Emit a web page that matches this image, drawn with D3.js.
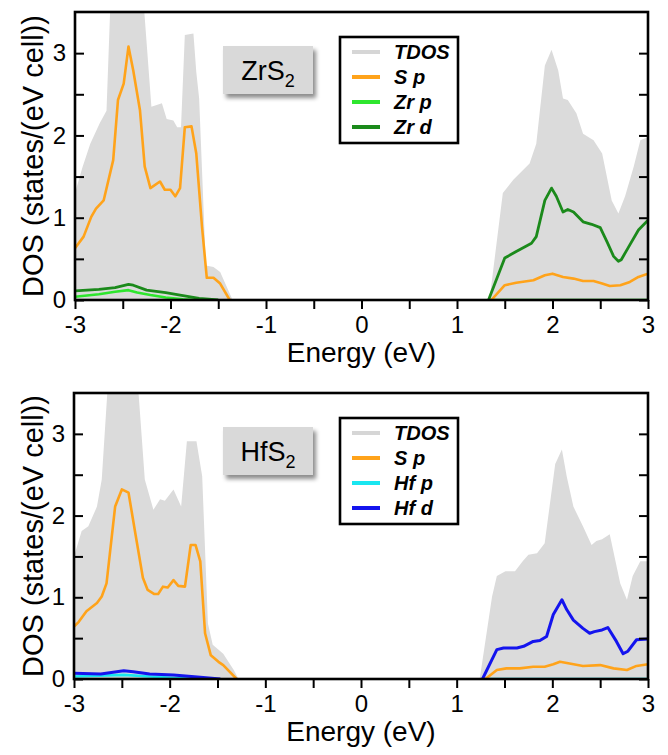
<!DOCTYPE html>
<html>
<head>
<meta charset="utf-8">
<script src="https://cdn.jsdelivr.net/npm/d3@7"></script>
<style>
  body { margin: 0; background: #fff; }
  svg text { font-family: "Liberation Sans", Arial, sans-serif; }
</style>
</head>
<body>
<svg id="chart"></svg>
<script>
var width = 668, height = 755;

// ---- ZrS2 (null = gap) ----
var zrTdosE = [-3, -2.92, -2.84, -2.74, -2.67, -2.62, -2.3, -2.2, -2.09, -2.04, -1.97, -1.93, -1.89, -1.85, -1.76, -1.73, -1.7, -1.63, -1.55, -1.48, -1.38, -1.35,
               1.34, 1.48, 1.59, 1.76, 1.83, 1.92, 1.99, 2.06, 2.11, 2.16, 2.25, 2.32, 2.43, 2.52, 2.62, 2.69, 2.76, 2.85, 2.92, 3];
var zrTdosV = [1.3, 1.62, 1.9, 2.15, 2.3, 3.9, 3.9, 2.35, 2.39, 2.2, 2.18, 2.1, 2.1, 3.22, 3.24, 2.77, 2.45, 0.42, 0.4, 0.34, 0.08, 0,
               0, 1.3, 1.46, 1.66, 1.9, 2.85, 3.04, 2.79, 2.45, 2.43, 2.27, 2.02, 1.94, 1.78, 1.21, 1.05, 1.26, 1.62, 1.94, 1.98];

var zrSpE = [-3, -2.91, -2.83, -2.78, -2.7, -2.6, -2.55, -2.49, -2.44, -2.39, -2.32, -2.27, -2.21, -2.11, -2.06, -2.0, -1.95, -1.9, -1.85, -1.78, -1.73, -1.67, -1.62, -1.55, -1.48, -1.38,
             null,
             1.36, 1.5, 1.62, 1.8, 1.92, 2.0, 2.11, 2.22, 2.32, 2.43, 2.52, 2.6, 2.71, 2.81, 2.9, 3];
var zrSpV = [0.63, 0.77, 1.01, 1.11, 1.21, 1.7, 2.43, 2.63, 3.08, 2.79, 2.31, 1.62, 1.36, 1.44, 1.34, 1.34, 1.26, 1.36, 2.1, 2.11, 1.78, 0.89, 0.27, 0.27, 0.2, 0,
             null,
             0, 0.18, 0.21, 0.24, 0.3, 0.32, 0.28, 0.26, 0.23, 0.23, 0.2, 0.17, 0.18, 0.22, 0.28, 0.32];

var zrPE = [-3, -2.75, -2.58, -2.44, -2.35, -2.21, -2.05, -1.87, -1.7, null, 1.34, 3];
var zrPV = [0.04, 0.07, 0.1, 0.12, 0.09, 0.06, 0.03, 0.01, 0, null, 0, 0];

var zrDE = [-3, -2.75, -2.58, -2.44, -2.39, -2.25, -2.05, -1.9, -1.7, -1.5,
            null,
            1.33, 1.5, 1.62, 1.78, 1.83, 1.92, 1.99, 2.04, 2.11, 2.16, 2.22, 2.32, 2.41, 2.5, 2.57, 2.64, 2.69, 2.72, 2.79, 2.9, 3];
var zrDV = [0.11, 0.13, 0.15, 0.19, 0.18, 0.12, 0.09, 0.06, 0.02, 0,
            null,
            0, 0.51, 0.59, 0.69, 0.77, 1.21, 1.36, 1.26, 1.07, 1.1, 1.07, 0.95, 0.92, 0.88, 0.71, 0.53, 0.47, 0.49, 0.63, 0.85, 0.97];

// ---- HfS2 ----
var hfTdosE = [-3, -2.92, -2.85, -2.76, -2.71, -2.63, -2.35, -2.26, -2.17, -2.1, -2.05, -1.96, -1.88, -1.82, -1.72, -1.66, -1.6, -1.55, -1.44, -1.33, -1.28,
               1.24, 1.26, 1.37, 1.42, 1.51, 1.61, 1.69, 1.75, 1.84, 1.92, 2.03, 2.1, 2.15, 2.22, 2.32, 2.41, 2.46, 2.52, 2.6, 2.71, 2.78, 2.84, 2.92, 3];
var hfTdosV = [1.5, 1.81, 1.87, 2.11, 2.44, 3.9, 3.9, 2.44, 2.07, 2.2, 2.18, 2.32, 2.11, 2.91, 2.91, 2.48, 0.68, 0.42, 0.31, 0.11, 0,
               0, 0.15, 1.01, 1.26, 1.32, 1.32, 1.44, 1.52, 1.54, 1.66, 2.63, 2.81, 2.48, 2.11, 1.87, 1.64, 1.69, 1.71, 1.77, 1.17, 0.97, 1.26, 1.44, 1.44];

var hfSpE = [-3, -2.95, -2.87, -2.76, -2.71, -2.66, -2.57, -2.5, -2.43, -2.36, -2.28, -2.23, -2.16, -2.12, -2.07, -2.02, -1.96, -1.91, -1.84, -1.78, -1.73, -1.68, -1.63, -1.57, -1.49, -1.44, -1.3,
             null,
             1.3, 1.42, 1.52, 1.66, 1.8, 1.92, 2.01, 2.08, 2.18, 2.32, 2.5, 2.64, 2.78, 2.88, 3];
var hfSpV = [0.64, 0.7, 0.83, 0.93, 1.01, 1.17, 2.11, 2.32, 2.28, 1.79, 1.24, 1.09, 1.04, 1.04, 1.13, 1.12, 1.21, 1.14, 1.13, 1.64, 1.64, 1.44, 0.56, 0.29, 0.21, 0.17, 0,
             null,
             0, 0.11, 0.13, 0.13, 0.15, 0.15, 0.18, 0.21, 0.19, 0.16, 0.17, 0.13, 0.11, 0.16, 0.18];

var hfPE = [-3, -2.48, -2.21, -1.87, -1.68, null, 1.28, 3];
var hfPV = [0.03, 0.05, 0.03, 0.01, 0, null, 0, 0];

var hfDE = [-3, -2.72, -2.48, -2.38, -2.21, -1.96, -1.68, -1.47,
            null,
            1.27, 1.42, 1.49, 1.63, 1.7, 1.8, 1.87, 1.94, 2.01, 2.1, 2.15, 2.22, 2.32, 2.39, 2.44, 2.52, 2.58, 2.67, 2.74, 2.79, 2.88, 3];
var hfDV = [0.07, 0.06, 0.1, 0.09, 0.06, 0.05, 0.02, 0,
            null,
            0, 0.36, 0.38, 0.38, 0.4, 0.46, 0.47, 0.52, 0.79, 0.97, 0.85, 0.72, 0.62, 0.56, 0.58, 0.6, 0.63, 0.46, 0.31, 0.34, 0.48, 0.49];

var xTicks = [-3, -2.5, -2, -1.5, -1, -0.5, 0, 0.5, 1, 1.5, 2, 2.5, 3];
var yTicks = [0, 0.5, 1, 1.5, 2, 2.5, 3];

function zip(es, vs) {
    return es.map((e, i) => ({e: e, v: vs[i]}));
}

var panels = [
    {
        id: 'zr', name: 'ZrS', top: 12, bottom: 300, left: 75, right: 648,
        tdos: zip(zrTdosE, zrTdosV),
        series: [
            {label: 'S p', color: '#ffa31a', w: 2.6, data: zip(zrSpE, zrSpV)},
            {label: 'Zr p', color: '#2ee62e', w: 2.6, data: zip(zrPE, zrPV)},
            {label: 'Zr d', color: '#1b8a1b', w: 2.8, data: zip(zrDE, zrDV)}
        ]
    },
    {
        id: 'hf', name: 'HfS', top: 393, bottom: 679, left: 74, right: 648,
        tdos: zip(hfTdosE, hfTdosV),
        series: [
            {label: 'S p', color: '#ffa31a', w: 2.6, data: zip(hfSpE, hfSpV)},
            {label: 'Hf p', color: '#19e6f0', w: 2.6, data: zip(hfPE, hfPV)},
            {label: 'Hf d', color: '#1414ee', w: 3, data: zip(hfDE, hfDV)}
        ]
    }
];

var svg = d3.select('#chart')
            .attr('width', width)
            .attr('height', height);

var defs = svg.append('defs');
defs.append('filter')
        .attr('id', 'shadow')
        .attr('x', '-20%').attr('y', '-20%')
        .attr('width', '150%').attr('height', '160%')
    .append('feDropShadow')
        .attr('dx', 3).attr('dy', 4)
        .attr('stdDeviation', 2)
        .attr('flood-color', '#000')
        .attr('flood-opacity', 0.45);

panels.forEach(makePanel);

function makePanel(p) {
    var x = d3.scaleLinear().domain([-3, 3]).range([p.left, p.right]);
    var y = d3.scaleLinear().domain([0, 3.5]).range([p.bottom, p.top]);

    defs.append('clipPath')
            .attr('id', 'clip-' + p.id)
        .append('rect')
            .attr('x', p.left).attr('y', p.top)
            .attr('width', p.right - p.left).attr('height', p.bottom - p.top);

    var g = svg.append('g');
    var plot = g.append('g').attr('clip-path', `url(#clip-${p.id})`);

    var area = d3.area()
                .x(d => x(d.e))
                .y0(y(0))
                .y1(d => y(d.v));

    plot.append('path')
        .datum(p.tdos)
        .attr('fill', '#dbdbdb')
        .attr('d', area);

    var line = d3.line()
                .defined(d => d.v != null)
                .x(d => x(d.e))
                .y(d => y(d.v));

    // draw p first so the d channel sits on top
    [p.series[1], p.series[2], p.series[0]].forEach(s => {
        plot.append('path')
            .datum(s.data)
            .attr('fill', 'none')
            .attr('stroke', s.color)
            .attr('stroke-width', s.w)
            .attr('stroke-linejoin', 'round')
            .attr('d', line);
    });

    // axes
    var xAxis = g.append('g')
        .attr('transform', `translate(0,${p.bottom})`)
        .call(d3.axisBottom(x)
                .tickValues(xTicks)
                .tickSize(9)
                .tickPadding(7)
                .tickFormat(d => Number.isInteger(d) ? d : ''));

    var yAxis = g.append('g')
        .attr('transform', `translate(${p.left},0)`)
        .call(d3.axisLeft(y)
                .tickValues(yTicks)
                .tickSize(-9)
                .tickPadding(9)
                .tickFormat(d => Number.isInteger(d) ? d : ''));

    var yAxisR = g.append('g')
        .attr('transform', `translate(${p.right},0)`)
        .call(d3.axisRight(y)
                .tickValues(yTicks)
                .tickSize(-9)
                .tickFormat(''));

    [xAxis, yAxis, yAxisR].forEach(a => {
        a.select('.domain').remove();
        a.selectAll('line').attr('stroke', '#000').attr('stroke-width', 2);
        a.selectAll('text')
            .attr('fill', '#000')
            .style('font-size', '24px');
    });

    g.append('rect')
        .attr('x', p.left).attr('y', p.top)
        .attr('width', p.right - p.left).attr('height', p.bottom - p.top)
        .attr('fill', 'none')
        .attr('stroke', '#000')
        .attr('stroke-width', 2.6);

    g.append('text')
        .attr('x', (p.left + p.right) / 2)
        .attr('y', p.bottom + 62)
        .attr('text-anchor', 'middle')
        .style('font-size', '28px')
        .text('Energy (eV)');

    g.append('text')
        .attr('transform', `translate(43,${(p.top + p.bottom) / 2}) rotate(-90)`)
        .attr('text-anchor', 'middle')
        .style('font-size', '29px')
        .text('DOS (states/(eV cell))');

    // compound tag
    var tagY = p.top + 34;
    g.append('rect')
        .attr('x', 223).attr('y', tagY)
        .attr('width', 90).attr('height', 48)
        .attr('fill', '#d9d9d9')
        .attr('filter', 'url(#shadow)');

    var tag = g.append('text')
        .attr('x', 268).attr('y', tagY + 34)
        .attr('text-anchor', 'middle')
        .style('font-size', '27px')
        .text(p.name);
    tag.append('tspan')
        .attr('dy', 7)
        .style('font-size', '18px')
        .text('2');

    // legend
    var lx = 340, ly = p.top + 25;
    var legend = g.append('g').attr('transform', `translate(${lx},${ly})`);
    legend.append('rect')
        .attr('width', 118).attr('height', 106)
        .attr('fill', '#fff')
        .attr('stroke', '#000')
        .attr('stroke-width', 2.6);

    var items = [{label: 'TDOS', color: '#d6d6d6', w: 4}].concat(p.series);
    var rows = legend.selectAll('.row')
        .data(items)
        .enter()
        .append('g')
            .classed('row', true)
            .attr('transform', (d, i) => `translate(0,${15 + i * 25})`);

    rows.append('line')
        .attr('x1', 12).attr('x2', 40)
        .attr('stroke', d => d.color)
        .attr('stroke-width', 4);

    rows.append('text')
        .attr('x', 54)
        .attr('dy', '0.36em')
        .style('font-size', '20px')
        .style('font-weight', 'bold')
        .style('font-style', 'italic')
        .text(d => d.label);
}
</script>
</body>
</html>
